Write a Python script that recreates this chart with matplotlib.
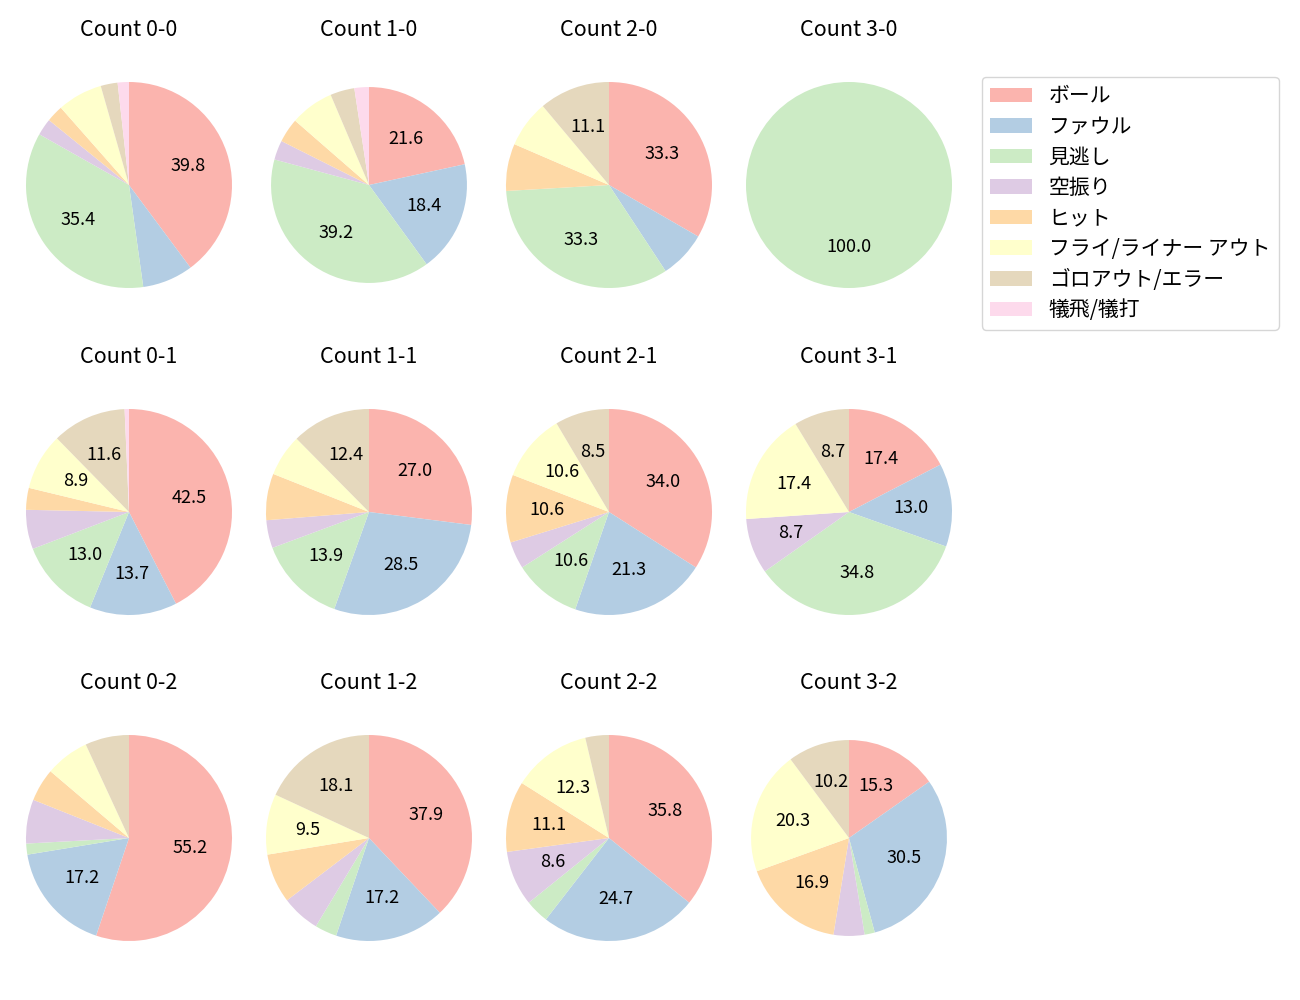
import matplotlib
matplotlib.use("Agg")
import matplotlib.pyplot as plt

plt.rcParams['font.family'] = ['Noto Sans CJK JP', 'DejaVu Sans']

categories = ['ボール', 'ファウル', '見逃し', '空振り', 'ヒット',
              'フライ/ライナー アウト', 'ゴロアウト/エラー', '犠飛/犠打']

titles = ['Count 0-0', 'Count 1-0', 'Count 2-0', 'Count 3-0',
          'Count 0-1', 'Count 1-1', 'Count 2-1', 'Count 3-1',
          'Count 0-2', 'Count 1-2', 'Count 2-2', 'Count 3-2']

# counts per category (same order as categories)
count_0_0 = [45, 9, 40, 3, 3, 8, 3, 2]
count_1_0 = [27, 23, 49, 4, 5, 9, 5, 3]
count_2_0 = [9, 2, 9, 0, 2, 2, 3, 0]
count_3_0 = [0, 0, 1, 0, 0, 0, 0, 0]
count_0_1 = [62, 20, 19, 9, 5, 13, 17, 1]
count_1_1 = [37, 39, 19, 6, 10, 9, 17, 0]
count_2_1 = [16, 10, 5, 2, 5, 5, 4, 0]
count_3_1 = [4, 3, 8, 2, 0, 4, 2, 0]
count_0_2 = [32, 10, 1, 4, 3, 4, 4, 0]
count_1_2 = [44, 20, 4, 7, 9, 11, 21, 0]
count_2_2 = [29, 20, 3, 7, 9, 10, 3, 0]
count_3_2 = [9, 18, 1, 3, 10, 12, 6, 0]

all_counts = [count_0_0, count_1_0, count_2_0, count_3_0,
              count_0_1, count_1_1, count_2_1, count_3_1,
              count_0_2, count_1_2, count_2_2, count_3_2]

colors = plt.get_cmap('Pastel1').colors[:8]

# style: relative pie radius per panel (two panels are drawn slightly smaller)
pie_radius = [1.0, 0.951, 1.0, 1.0,
              1.0, 1.0, 1.0, 1.0,
              1.0, 1.0, 1.0, 0.951]

W, H = 1300, 1000
fig = plt.figure(figsize=(13, 10), dpi=100)

col_cx = [129, 369, 609, 849]
row_cy = [185, 512, 838]
box = 240
radius_px = 103
lim = (box / 2) / radius_px

handles = None
for i, (vals, title) in enumerate(zip(all_counts, titles)):
    r, c = divmod(i, 4)
    cx, cy = col_cx[c], row_cy[r]
    ax = fig.add_axes([(cx - box / 2) / W, 1 - (cy + box / 2) / H, box / W, box / H])
    wedges, texts, autotexts = ax.pie(
        vals, colors=colors, startangle=90, counterclock=False,
        radius=pie_radius[i],
        autopct=lambda p: f'{p:.1f}' if p >= 8 else '', pctdistance=0.6,
        textprops={'fontsize': 13})
    ax.set_xlim(-lim, lim)
    ax.set_ylim(-lim, lim)
    ax.set_aspect('equal')
    ax.axis('off')
    ax.text(0.5, 0.5 + 155 / box, title, ha='center', va='center',
            fontsize=15.5, transform=ax.transAxes)
    if i == 0:
        handles = wedges

fig.legend(handles, categories, loc='upper left',
           bbox_to_anchor=(982 / W, 1 - 77 / H), borderaxespad=0,
           fontsize=15, labelspacing=0.41)

fig.savefig('out.png', dpi=100)
